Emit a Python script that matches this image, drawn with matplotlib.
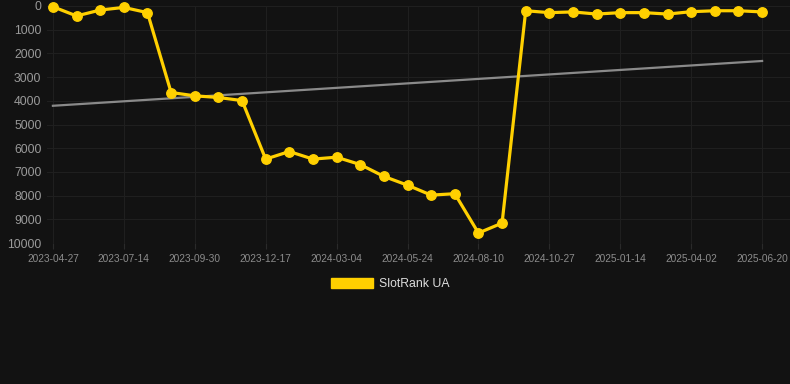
import matplotlib.pyplot as plt
from matplotlib.patches import Patch
import numpy as np

plt.rcParams['font.family'] = ['Liberation Sans', 'DejaVu Sans']

# data
dates = ["2023-04-27", "2023-07-14", "2023-09-30", "2023-12-17", "2024-03-04", "2024-05-24",
         "2024-08-10", "2024-10-27", "2025-01-14", "2025-04-02", "2025-06-20"]
ranks = [30, 420, 170, 60, 280, 3650, 3790, 3860, 3990, 6460,
         6140, 6460, 6380, 6690, 7190, 7560, 7980, 7920, 9580, 9160,
         200, 280, 250, 340, 280, 280, 340, 240, 200, 200, 250]
trend = [4210, 2320]
label_step = 3

bg = "#121212"
yellow = "#FFD000"

fig = plt.figure(figsize=(7.9, 3.84), dpi=100, facecolor=bg)
ax = fig.add_axes([47 / 790, 1 - 243 / 384, 743 / 790, 237 / 384])
ax.set_facecolor(bg)

x = np.arange(len(ranks))
ax.plot([x[0], x[-1]], trend, color="#8a8a8a", lw=1.6, zorder=2)
ax.plot(x, ranks, color=yellow, lw=2.3, marker="o", markersize=6.8, zorder=3, clip_on=False)

ax.set_xlim(-0.25, 31.18)
ax.set_ylim(10000, 0)
ax.set_yticks(range(0, 10001, 1000))
ax.set_xticks(x[::label_step])
ax.set_xticklabels(dates)

ax.grid(True, color="#1f1f1f", lw=0.8, zorder=0)
for s in ax.spines.values():
    s.set_visible(False)
ax.tick_params(axis="y", length=0, pad=4, labelsize=8.8, labelcolor="#9a9a9a")
ax.tick_params(axis="x", length=4, color="#2a2a2a", pad=4, labelsize=7.3, labelcolor="#8c8c8c")

fig.legend(handles=[Patch(facecolor=yellow, edgecolor=yellow)], labels=["SlotRank UA"],
           loc="center", bbox_to_anchor=(0.494, 1 - 284 / 384), frameon=False,
           handlelength=3.4, handleheight=0.85, handletextpad=0.5,
           prop={"size": 8.8}, labelcolor="#dddddd")

fig.savefig("out.png", dpi=100, facecolor=bg)
